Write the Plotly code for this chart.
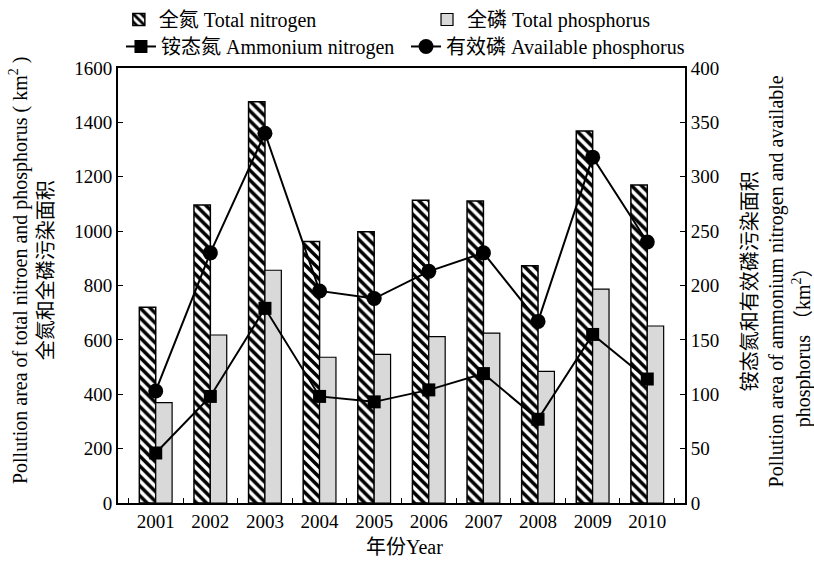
import plotly.graph_objects as go

years = ["2001", "2002", "2003", "2004", "2005", "2006", "2007", "2008", "2009", "2010"]
total_nitrogen = [720, 1096, 1476, 962, 998, 1114, 1111, 873, 1368, 1170]
total_phosphorus = [369, 618, 856, 536, 547, 612, 625, 484, 787, 651]
ammonium_nitrogen = [46, 98, 179, 98, 93, 104, 119, 77, 155, 114]
available_phosphorus = [103, 230, 340, 195, 188, 213, 230, 167, 318, 240]

serif = "Liberation Serif, Noto Sans CJK SC, serif"
tick_font = dict(family=serif, size=19, color="black")
title_font = dict(family=serif, size=20, color="black")
legend_font = dict(family=serif, size=20, color="black")

fig = go.Figure()
fig.add_trace(go.Bar(
    x=years, y=total_nitrogen, name="全氮 Total nitrogen",
    marker=dict(color="white", line=dict(color="black", width=1.5),
                pattern=dict(shape="\\", fgcolor="black", bgcolor="white",
                             size=7, solidity=0.5, fillmode="replace")),
    yaxis="y", legend="legend",
))
fig.add_trace(go.Bar(
    x=years, y=total_phosphorus, name="全磷 Total phosphorus",
    marker=dict(color="#d9d9d9", line=dict(color="black", width=1.2)),
    yaxis="y", legend="legend3",
))
fig.add_trace(go.Scatter(
    x=years, y=ammonium_nitrogen, name="铵态氮 Ammonium nitrogen",
    mode="lines+markers", line=dict(color="black", width=2),
    marker=dict(symbol="square", size=13, color="black"),
    yaxis="y2", legend="legend2",
))
fig.add_trace(go.Scatter(
    x=years, y=available_phosphorus, name="有效磷 Available phosphorus",
    mode="lines+markers", line=dict(color="black", width=2),
    marker=dict(symbol="circle", size=15, color="black"),
    yaxis="y2", legend="legend4",
))

# one legend box per entry so the two-column key can be placed freely
legend_common = dict(orientation="h", xanchor="left", yanchor="top", yref="container",
                     xref="container", font=legend_font,
                     bgcolor="rgba(0,0,0,0)", itemwidth=30)

fig.update_layout(
    width=814, height=562,
    margin=dict(l=118, r=129, t=68, b=59, autoexpand=False),
    paper_bgcolor="white", plot_bgcolor="white",
    barmode="group", bargap=0.4, bargroupgap=0,
    font=tick_font,
    showlegend=True,
    legend=dict(legend_common, x=0.146, y=1.0),
    legend3=dict(legend_common, x=0.5246, y=1.0),
    legend2=dict(legend_common, x=0.1486, y=0.952),
    legend4=dict(legend_common, x=0.4988, y=0.952),
    xaxis=dict(type="category", showline=True, linecolor="black", linewidth=2,
               mirror=True, ticks="inside", ticklen=5, tickcolor="black",
               tickson="boundaries", tickfont=tick_font, showgrid=False),
    yaxis=dict(range=[0, 1600], dtick=200, showline=True, linecolor="black",
               linewidth=2, ticks="inside", ticklen=5, tickcolor="black",
               tickfont=tick_font, showgrid=False, zeroline=False),
    yaxis2=dict(range=[0, 400], dtick=50, overlaying="y", side="right",
                showline=True, linecolor="black", linewidth=2, ticks="inside",
                ticklen=5, tickcolor="black", tickfont=tick_font, showgrid=False,
                zeroline=False),
)

# left axis title (two lines)
fig.add_annotation(text="Pollution area of total nitroen and phosphorus ( km<sup>2</sup> )<br>全氮和全磷污染面积",
                   xref="paper", yref="paper", x=-0.153, y=0.536, xanchor="center",
                   yanchor="middle", textangle=-90, showarrow=False, font=title_font)
# right axis title
fig.add_annotation(text="铵态氮和有效磷污染面积<br>Pollution area of ammonium nitrogen and available",
                   xref="paper", yref="paper", x=1.138, y=0.51, xanchor="center",
                   yanchor="middle", textangle=-90, showarrow=False, font=title_font)
fig.add_annotation(text="phosphorus （km<sup>2</sup>）",
                   xref="paper", yref="paper", x=1.205, y=0.17, xanchor="center",
                   yanchor="bottom", textangle=-90, showarrow=False, font=title_font)
# x axis title
fig.add_annotation(text="年份Year", xref="paper", yref="paper", x=0.505, y=-0.101,
                   xanchor="center", yanchor="middle", showarrow=False, font=title_font)

fig.write_html("out.html")
